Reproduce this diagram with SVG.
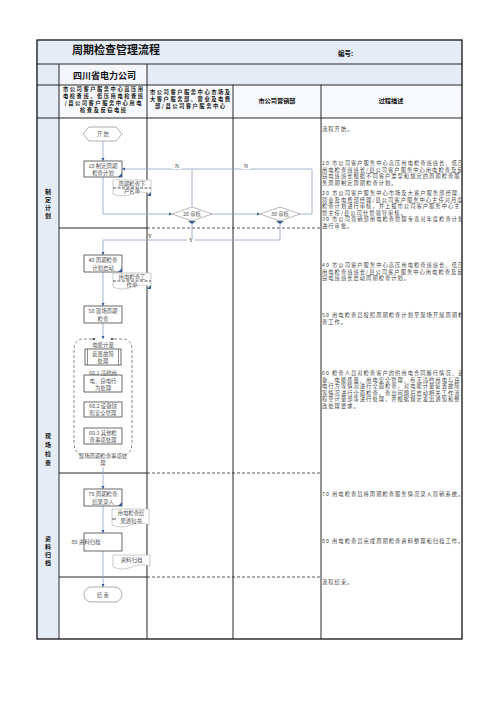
<svg xmlns="http://www.w3.org/2000/svg" width="496" height="702" viewBox="0 0 496 702">
<style>
.hdr{font-family:"Noto Sans CJK SC","Liberation Sans",sans-serif;font-weight:bold;fill:#111}
.nt{font-family:"Noto Sans CJK SC","Liberation Sans",sans-serif;font-size:5.4px;fill:#555;text-anchor:middle}
.ds{font-family:"Noto Sans CJK SC","Liberation Sans",sans-serif;font-size:5.3px;letter-spacing:1px;fill:#444}
.lbl{font-family:"Liberation Serif","Noto Sans CJK SC",serif;font-size:5.5px;fill:#333;text-anchor:middle}
.box{fill:#fff;stroke:#444;stroke-width:0.8}
.doc{fill:#fff;stroke:#aaa;stroke-width:0.6}
.flow{fill:none;stroke:#8aa3c4;stroke-width:0.8}
.grid{stroke:#111;stroke-width:0.9}
.dash{stroke:#111;stroke-width:0.7;stroke-dasharray:3 2}
.corner{fill:#3a5a94}
.loop{fill:none;stroke:#555;stroke-width:0.7;stroke-dasharray:3 2}
</style>
<defs>
<marker id="ah" viewBox="0 0 6 6" refX="6" refY="3" markerWidth="4" markerHeight="4" orient="auto">
<path d="M0,0 L6,3 L0,6 z" fill="#3a5a94"/>
</marker>
<marker id="ahk" viewBox="0 0 6 6" refX="6" refY="3" markerWidth="4" markerHeight="4" orient="auto">
<path d="M0,0 L6,3 L0,6 z" fill="#222"/>
</marker>
<clipPath id="c4"><rect x="321" y="118" width="140.5" height="521"/></clipPath>
</defs>

<!-- table -->
<g id="table">
<rect x="37" y="40" width="425" height="78" fill="#e6ecf6"/>
<rect x="59" y="64" width="88" height="21" fill="#f4f6fb"/>
<rect x="59" y="85" width="403" height="33" fill="#f7f9fc"/>
<rect x="37" y="118" width="22" height="521" fill="#e6ecf6"/>
<rect x="59" y="118" width="403" height="521" fill="#fff"/>
<rect x="37" y="40" width="425" height="599" fill="none" stroke="#111" stroke-width="1.3"/>
<line class="grid" x1="37" y1="64" x2="462" y2="64"/>
<line class="grid" x1="37" y1="85" x2="462" y2="85"/>
<line class="grid" x1="37" y1="118" x2="462" y2="118"/>
<line class="grid" x1="59" y1="64" x2="59" y2="639"/>
<line class="grid" x1="147" y1="64" x2="147" y2="639"/>
<line class="grid" x1="233" y1="85" x2="233" y2="639"/>
<line class="grid" x1="321" y1="85" x2="321" y2="639"/>
<line class="grid" x1="59" y1="228" x2="147" y2="228"/>
<line class="dash" x1="147" y1="228" x2="321" y2="228"/>
<line class="grid" x1="59" y1="473" x2="147" y2="473"/>
<line class="dash" x1="147" y1="473" x2="321" y2="473"/>
<line class="grid" x1="59" y1="577" x2="147" y2="577"/>
<line class="dash" x1="147" y1="577" x2="321" y2="577"/>

<text class="hdr" x="72" y="54" font-size="11">周期检查管理流程</text>
<text class="hdr" x="338" y="56" font-size="6.5">编号:</text>
<text class="hdr" x="73" y="79" font-size="9">四川省电力公司</text>
<g class="hdr" font-size="5.3" letter-spacing="1.5" text-anchor="middle">
<text x="103.8" y="91">市公司客户服务中心高压用</text>
<text x="103.8" y="98">电检查班、低压用电检查班</text>
<text x="103.8" y="105">/县公司客户服务中心用电</text>
<text x="103.8" y="112">检查及反窃电班</text>
<text x="190.8" y="94">市公司客户服务中心市场及</text>
<text x="190.8" y="101">大客户服务部、营业及电费</text>
<text x="190.8" y="108">部/县公司客户服务中心</text>
</g>
<g class="hdr" font-size="6.2" text-anchor="middle">
<text x="277" y="103">市公司营销部</text>
<text x="391" y="103">过程描述</text>
</g>
<g class="hdr" font-size="6" text-anchor="middle">
<text x="48" y="194">制</text><text x="48" y="202">定</text><text x="48" y="210">计</text><text x="48" y="218">划</text>
<text x="48" y="438">现</text><text x="48" y="447">场</text><text x="48" y="456">检</text><text x="48" y="465">查</text>
<text x="48" y="541">资</text><text x="48" y="549">料</text><text x="48" y="557">归</text><text x="48" y="565">档</text>
</g>
</g>

<!-- descriptions -->
<g id="desc" class="ds" clip-path="url(#c4)">
<text x="322" y="131">流程开始。</text>
<text x="322" y="165">10 市公司客户服务中心高压用电检查班班长、低压</text>
<text x="322" y="171.5">用电检查班班长/县公司客户服务中心用电检查及反</text>
<text x="322" y="178">窃电班班长根据不同客户类型和规定的周期检查服</text>
<text x="322" y="184.5">务周期制定周期检查计划。</text>
<text x="322" y="195">20 市公司客户服务中心市场及大客户服务部经理、</text>
<text x="322" y="201.5">营业及电费部经理/县公司客户服务中心主任对月度</text>
<text x="322" y="208">检查计划进行审核，并上报市公司客户服务中心主</text>
<text x="322" y="214.5">管主任/县公司分管领导审核。</text>
<text x="322" y="221">30 市公司营销部用电检查管理专责对年度检查计划</text>
<text x="322" y="227.5">进行审批。</text>
<text x="322" y="267">40 市公司客户服务中心高压用电检查班班长、低压</text>
<text x="322" y="273.5">用电检查班班长/县公司客户服务中心用电检查及反</text>
<text x="322" y="280">窃电班班长启动周期检查计划。</text>
<text x="322" y="317">50 用电检查员按照周期检查计划至现场开展周期检</text>
<text x="322" y="324">查工作。</text>
<text x="322" y="375">60 检查人员对检查客户的供用电合同履行情况、设</text>
<text x="322" y="381.5">备、电能质量、用电安全管理、有无违约用电与窃</text>
<text x="322" y="388">电行为等情况进行全面检查，对电能计量装置故障</text>
<text x="322" y="394.5">等情况进行全面检查，查出问题后启动相关工作流</text>
<text x="322" y="401">程至计量部等进行处理，并根据规定发出通知和整</text>
<text x="322" y="407.5">改处理要求。</text>
<text x="322" y="496">70 用电检查员将周期检查服务情况录入营销系统。</text>
<text x="322" y="543">80 用电检查员完成周期检查资料整理和归档工作。</text>
<text x="322" y="584">流程结束。</text>
</g>

<!-- connectors -->
<g id="connectors">
<line class="flow" x1="103" y1="141" x2="103" y2="161" marker-end="url(#ah)"/>
<polyline class="flow" points="103,177 103,214 172,214" marker-end="url(#ah)"/>
<line class="flow" x1="212" y1="214" x2="260" y2="214" marker-end="url(#ah)"/>
<polyline class="flow" points="192,207 192,169 122,169" marker-end="url(#ah)"/>
<polyline class="flow" points="300,214 312,214 312,169 192,169"/>
<polyline class="flow" points="192,221 192,240"/>
<polyline class="flow" points="280,221 280,240 103,240 103,255" marker-end="url(#ah)"/>
<line class="flow" x1="103" y1="272" x2="103" y2="306" marker-end="url(#ah)"/>
<line class="flow" x1="103" y1="323" x2="103" y2="339" marker-end="url(#ah)"/>
<line class="flow" x1="103" y1="467" x2="103" y2="489" marker-end="url(#ah)"/>
<line class="flow" x1="103" y1="506" x2="103" y2="533" marker-end="url(#ah)"/>
<line class="flow" x1="103" y1="551" x2="103" y2="587" marker-end="url(#ah)"/>
<path class="corner" d="M188,221 L196,221 L192,224 z"/>
<path class="corner" d="M276,221 L284,221 L280,224 z"/>
<rect x="172" y="164" width="10" height="5" fill="#fff"/>
<text class="lbl" x="177" y="168">N</text>
<rect x="241" y="164" width="10" height="5" fill="#fff"/>
<text class="lbl" x="246" y="168">N</text>
<text class="lbl" x="150" y="238">Y</text>
<rect x="187" y="238" width="8" height="4" fill="#fff"/>
<text class="lbl" x="191" y="242">Y</text>
</g>

<!-- nodes -->
<g id="start">
<path d="M89,127 L116,127 L122,134 L116,141 L89,141 L83,134 z" fill="#fff" stroke="#777" stroke-width="0.6"/>
<text class="nt" x="103" y="136">开 始</text>
</g>
<g id="n10">
<rect class="box" x="84" y="161" width="38" height="16"/>
<path class="corner" d="M122,173 L122,177 L118,177 z"/>
<text class="nt" x="103" y="168">10 制定周期</text>
<text class="nt" x="103" y="175">检查计划</text>
</g>
<g id="doc1">
<path class="doc" d="M113,180 L151,180 L151,194 Q141,190 132,194 Q122,198 113,194 z"/>
<line x1="113" y1="188" x2="151" y2="188" stroke="#111" stroke-width="0.7" stroke-dasharray="3 1.5"/>
<path class="corner" d="M151,192 L151,196 L147,196 z"/>
<text class="nt" x="132" y="185.5">周期检查下</text>
<text class="nt" x="132" y="193">户名单</text>
</g>
<g id="d20">
<path d="M172,214 L192,207 L212,214 L192,221 z" fill="#fff" stroke="#888" stroke-width="0.6"/>
<text class="nt" x="192" y="216">20 审核</text>
</g>
<g id="d30">
<path d="M260,214 L280,207 L300,214 L280,221 z" fill="#fff" stroke="#888" stroke-width="0.6"/>
<text class="nt" x="280" y="216">30 审核</text>
</g>
<g id="n40">
<rect class="box" x="84" y="255" width="38" height="17"/>
<path class="corner" d="M122,268 L122,272 L118,272 z"/>
<text class="nt" x="103" y="262">40 周期检查</text>
<text class="nt" x="103" y="269.5">计划启动</text>
</g>
<g id="doc2">
<path class="doc" d="M113,273 L151,273 L151,287 Q141,283 132,287 Q122,291 113,287 z"/>
<line x1="113" y1="281" x2="151" y2="281" stroke="#111" stroke-width="0.7" stroke-dasharray="3 1.5"/>
<path class="corner" d="M151,285 L151,289 L147,289 z"/>
<text class="nt" x="132" y="279">用电检查工</text>
<text class="nt" x="132" y="286.5">作单</text>
</g>
<g id="n50">
<rect class="box" x="84" y="306" width="38" height="17"/>
<text class="nt" x="103" y="313">50 现场周期</text>
<text class="nt" x="103" y="320.5">检查</text>
</g>
<g id="g60">
<path class="loop" d="M92,339 L84,339 Q74,339 74,350 L74,443 Q74,452 81,455" marker-start="url(#ahk)"/>
<path class="loop" d="M114,339 L122,339 Q132,339 132,350 L132,443 Q132,452 125,455" marker-start="url(#ahk)"/>
<text class="nt" x="103" y="347">电能计量</text>
<rect class="box" x="85" y="349" width="36" height="16"/>
<line x1="87.5" y1="349" x2="87.5" y2="365" stroke="#444" stroke-width="0.6"/>
<line x1="118.5" y1="349" x2="118.5" y2="365" stroke="#444" stroke-width="0.6"/>
<text class="nt" x="103" y="356">装置故障</text>
<text class="nt" x="103" y="363">处理</text>
<rect class="box" x="84" y="375" width="38" height="17"/>
<text class="nt" x="103" y="374.5">60.1 违约用</text>
<text class="nt" x="103" y="382.5">电、窃电行</text>
<text class="nt" x="103" y="389.5">为处理</text>
<rect class="box" x="84" y="402" width="38" height="15"/>
<text class="nt" x="103" y="408">60.2 设备缺</text>
<text class="nt" x="103" y="415">陷安全管理</text>
<rect class="box" x="84" y="428" width="38" height="16"/>
<text class="nt" x="103" y="434.5">60.3 其他检</text>
<text class="nt" x="103" y="441.5">查事项处理</text>
<text class="nt" x="103" y="458">现场周期检查事项处</text>
<text class="nt" x="103" y="465">理</text>
</g>
<g id="n70">
<rect class="box" x="84" y="489" width="38" height="17"/>
<path class="corner" d="M122,502 L122,506 L118,506 z"/>
<text class="nt" x="103" y="496">70 周期检查</text>
<text class="nt" x="103" y="503.5">结果录入</text>
</g>
<g id="doc3">
<path class="doc" d="M112,509 L149,509 L149,525 Q140,521 131,525 Q121,529 112,525 z"/>
<line x1="112" y1="519" x2="116" y2="519" stroke="#111" stroke-width="0.7"/>
<text class="nt" x="131" y="515">用电检查结</text>
<text class="nt" x="131" y="522.5">果通知书</text>
</g>
<g id="n80">
<rect class="box" x="84" y="533" width="38" height="18"/>
<text class="nt" x="86" y="544" text-anchor="start">80 资料归档</text>
</g>
<g id="doc4">
<path class="doc" d="M113,555 L150,555 L150,566 Q141,563 132,567 Q122,571 113,567 z"/>
<text class="nt" x="131.5" y="562">资料归档</text>
</g>
<g id="end">
<rect x="84" y="587" width="38" height="15" rx="7.5" fill="#fff" stroke="#777" stroke-width="0.6"/>
<text class="nt" x="103" y="596.5">结 束</text>
</g>
</svg>
